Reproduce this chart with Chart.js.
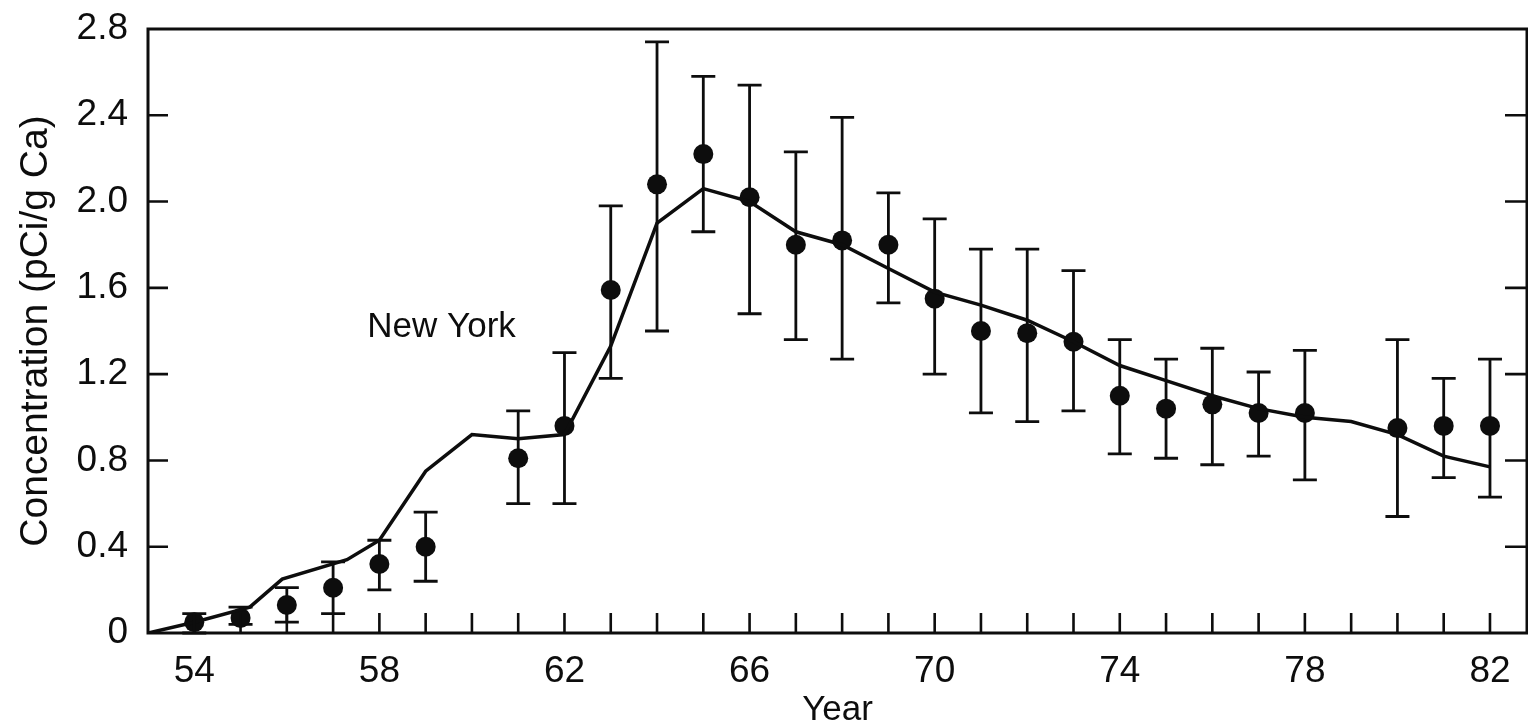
<!DOCTYPE html>
<html>
<head>
<meta charset="utf-8">
<script src="https://cdn.jsdelivr.net/npm/chart.js@4/dist/chart.umd.min.js"></script>
<style>
  html, body { margin: 0; padding: 0; background: #fff; }
</style>
</head>
<body>
<canvas id="chart" width="1528" height="728"></canvas>
<script>
// measured annual means (dots) and their error bar limits
var obsYears  = [54, 55, 56, 57, 58, 59, 61, 62, 63, 64, 65, 66, 67, 68, 69, 70, 71, 72, 73, 74, 75, 76, 77, 78, 80, 81, 82];
var obsValues = [0.05, 0.07, 0.13, 0.21, 0.32, 0.40, 0.81, 0.96, 1.59, 2.08, 2.22, 2.02, 1.80, 1.82, 1.80, 1.55, 1.40, 1.39, 1.35, 1.10, 1.04, 1.06, 1.02, 1.02, 0.95, 0.96, 0.96];
var obsUpper  = [0.09, 0.12, 0.21, 0.33, 0.43, 0.56, 1.03, 1.30, 1.98, 2.74, 2.58, 2.54, 2.23, 2.39, 2.04, 1.92, 1.78, 1.78, 1.68, 1.36, 1.27, 1.32, 1.21, 1.31, 1.36, 1.18, 1.27];
var obsLower  = [0.00, 0.04, 0.05, 0.09, 0.20, 0.24, 0.60, 0.60, 1.18, 1.40, 1.86, 1.48, 1.36, 1.27, 1.53, 1.20, 1.02, 0.98, 1.03, 0.83, 0.81, 0.78, 0.82, 0.71, 0.54, 0.72, 0.63];

// model curve
var modelYears  = [53, 54, 55.2, 55.9, 57.3, 58, 59, 60, 61, 62, 63, 64, 65, 66, 67, 68, 69, 70, 71, 72, 73, 74, 75, 76, 77, 78, 79, 80, 81, 82];
var modelValues = [0, 0.05, 0.12, 0.25, 0.34, 0.43, 0.75, 0.92, 0.90, 0.92, 1.33, 1.90, 2.06, 2.00, 1.86, 1.80, 1.69, 1.58, 1.52, 1.45, 1.35, 1.24, 1.17, 1.10, 1.04, 1.00, 0.98, 0.92, 0.82, 0.77];

// axis ticks
var xTickYears = [54, 55, 56, 57, 58, 59, 60, 61, 62, 63, 64, 65, 66, 67, 68, 69, 70, 71, 72, 73, 74, 75, 76, 77, 78, 79, 80, 81, 82];
var xLabelYears = [54, 58, 62, 66, 70, 74, 78, 82];
var yTickValues = [0, 0.4, 0.8, 1.2, 1.6, 2.0, 2.4, 2.8];

var INK = '#0d0d0d';
var FONT = '"Liberation Sans", Arial, sans-serif';

// error bars under the dots, frame and inward tick marks on top
var framePlugin = {
  id: 'framePlugin',
  beforeDatasetsDraw(chart) {
    var ctx = chart.ctx;
    var xs = chart.scales.x, ys = chart.scales.y;
    ctx.save();
    ctx.strokeStyle = INK;
    ctx.lineWidth = 2.8;
    for (var i = 0; i < obsYears.length; i++) {
      var px = xs.getPixelForValue(obsYears[i]);
      var top = ys.getPixelForValue(obsUpper[i]);
      var bot = ys.getPixelForValue(obsLower[i]);
      ctx.beginPath();
      ctx.moveTo(px, top); ctx.lineTo(px, bot);
      ctx.moveTo(px - 12, top); ctx.lineTo(px + 12, top);
      ctx.moveTo(px - 12, bot); ctx.lineTo(px + 12, bot);
      ctx.stroke();
    }
    ctx.restore();
  },
  afterDraw(chart) {
    var ctx = chart.ctx;
    var a = chart.chartArea;
    var xs = chart.scales.x, ys = chart.scales.y;
    ctx.save();
    ctx.strokeStyle = INK;
    ctx.lineWidth = 3;
    ctx.strokeRect(a.left, a.top, a.right - a.left, a.bottom - a.top);
    ctx.lineWidth = 2.6;
    ctx.beginPath();
    yTickValues.forEach(function(v) {
      if (v === 0 || v === 2.8) return;
      var py = ys.getPixelForValue(v);
      ctx.moveTo(a.left, py); ctx.lineTo(a.left + 20, py);
      ctx.moveTo(a.right, py); ctx.lineTo(a.right - 22, py);
    });
    xTickYears.forEach(function(v) {
      var px = xs.getPixelForValue(v);
      ctx.moveTo(px, a.bottom); ctx.lineTo(px, a.bottom - 20);
    });
    ctx.stroke();
    ctx.restore();
  }
};

var chart = new Chart(document.getElementById('chart').getContext('2d'), {
  type: 'scatter',
  data: {
    datasets: [
      {
        label: 'Model',
        data: modelYears.map(function(x, i) { return { x: x, y: modelValues[i] }; }),
        showLine: true,
        borderColor: INK,
        borderWidth: 3.5,
        pointRadius: 0,
        tension: 0
      },
      {
        label: 'New York',
        data: obsYears.map(function(x, i) { return { x: x, y: obsValues[i] }; }),
        showLine: false,
        backgroundColor: INK,
        borderWidth: 0,
        pointRadius: 10
      }
    ]
  },
  options: {
    responsive: false,
    devicePixelRatio: 1,
    animation: false,
    layout: { autoPadding: false, padding: { top: 29, right: 1, left: 0, bottom: 0 } },
    plugins: {
      legend: { display: false },
      tooltip: { enabled: false }
    },
    scales: {
      x: {
        type: 'linear',
        min: 53,
        max: 82.8,
        afterBuildTicks: function(scale) {
          scale.ticks = xTickYears.map(function(v) { return { value: v }; });
        },
        afterFit: function(scale) {
          scale.height = 95;
          scale.paddingLeft = 0;
          scale.paddingRight = 0;
        },
        grid: { display: false, drawTicks: false },
        border: { display: false },
        ticks: {
          autoSkip: false,
          maxRotation: 0,
          padding: 17,
          color: INK,
          font: { size: 37, family: FONT },
          callback: function(v) { return xLabelYears.indexOf(v) >= 0 ? String(v) : ''; }
        },
        title: {
          display: true,
          text: 'Year',
          color: INK,
          font: { size: 35, family: FONT },
          padding: { top: 0, bottom: -3 }
        }
      },
      y: {
        min: 0,
        max: 2.8,
        afterBuildTicks: function(scale) {
          scale.ticks = yTickValues.map(function(v) { return { value: v }; });
        },
        afterFit: function(scale) {
          scale.width = 148;
          scale.paddingTop = 0;
          scale.paddingBottom = 0;
        },
        grid: { display: false, drawTicks: false },
        border: { display: false },
        ticks: {
          padding: 20,
          color: INK,
          font: { size: 37, family: FONT },
          callback: function(v) { return v === 0 ? '0' : v.toFixed(1); }
        },
        title: {
          display: true,
          text: 'Concentration (pCi/g Ca)',
          color: INK,
          font: { size: 39, family: FONT },
          padding: { top: 13, bottom: 0 }
        }
      }
    }
  },
  plugins: [framePlugin, {
    id: 'siteLabel',
    afterDatasetsDraw(chart) {
      var ctx = chart.ctx;
      var xs = chart.scales.x, ys = chart.scales.y;
      ctx.save();
      ctx.fillStyle = INK;
      ctx.font = '35px ' + FONT;
      ctx.textAlign = 'left';
      ctx.textBaseline = 'alphabetic';
      ctx.fillText('New York', xs.getPixelForValue(57.74), ys.getPixelForValue(1.372));
      ctx.restore();
    }
  }]
});
</script>
</body>
</html>
